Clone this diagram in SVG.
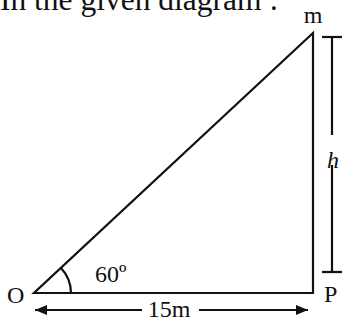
<svg xmlns="http://www.w3.org/2000/svg" width="342" height="320" viewBox="0 0 342 320">
<defs>
<style>
.ln{stroke:#111;stroke-width:2.2;fill:none;stroke-linecap:butt}
.t{font-family:"Liberation Serif","Times New Roman",serif;font-size:24px;fill:#111}
</style>
<marker id="ah" viewBox="0 0 12 10" refX="12" refY="5" markerWidth="12" markerHeight="10" markerUnits="userSpaceOnUse" orient="auto-start-reverse">
<path d="M0,0 L12,5 L0,10 Z" fill="#111"/>
</marker>
</defs>
<rect width="342" height="320" fill="#fff"/>
<text class="t" x="0" y="10" style="font-size:31.5px">In the given diagram :</text>
<g id="triangle">
<path class="ln" d="M313,33 L34,293 L313,293 Z" style="stroke-linejoin:miter"/>
<path class="ln" d="M71,293 A37,37 0 0 0 61,268"/>
</g>
<g id="labels">
<text class="t" x="313" y="23" text-anchor="middle">m</text>
<text class="t" x="7" y="303">O</text>
<text class="t" x="324" y="302">P</text>
<text class="t" x="95" y="282">60º</text>
<text class="t" x="333" y="168" text-anchor="middle" font-style="italic">h</text>
<text class="t" x="169" y="317" text-anchor="middle">15m</text>
</g>
<g id="connectors">
<line class="ln" x1="142" y1="310" x2="35" y2="310" marker-end="url(#ah)"/>
<line class="ln" x1="199" y1="310" x2="308" y2="310" marker-end="url(#ah)"/>
<line class="ln" x1="332" y1="37" x2="332" y2="135"/>
<line class="ln" x1="332" y1="165" x2="332" y2="272"/>
<line class="ln" x1="322" y1="37" x2="342" y2="37"/>
<line class="ln" x1="322" y1="272" x2="342" y2="272"/>
</g>
</svg>
